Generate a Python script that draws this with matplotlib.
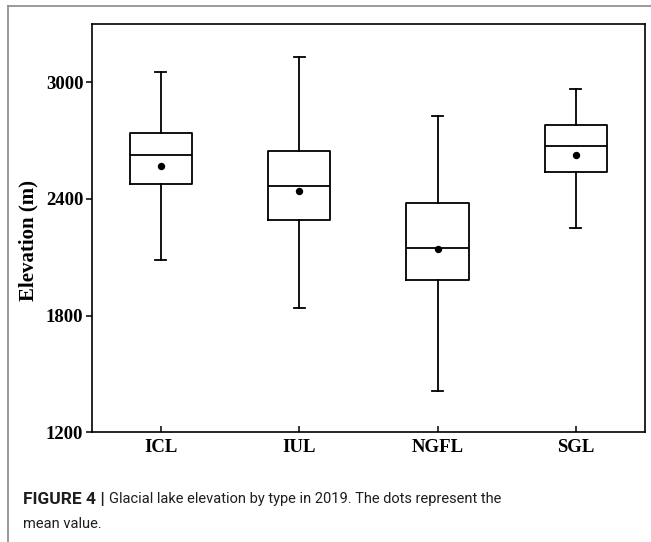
import matplotlib
matplotlib.use("Agg")
import matplotlib.pyplot as plt
from matplotlib.lines import Line2D

# values (m)
lake_types = ["ICL", "IUL", "NGFL", "SGL"]
whisker_low = [2086, 1841, 1411, 2249]
q1 = [2475, 2290, 1983, 2540]
median = [2626, 2466, 2146, 2672]
q3 = [2737, 2645, 2379, 2778]
whisker_high = [3052, 3131, 2825, 2964]
mean = [2569, 2441, 2141, 2627]
y_ticks = [1200, 1800, 2400, 3000]

serif = ["Liberation Serif", "DejaVu Serif"]
W, H = 651, 542

fig = plt.figure(figsize=(W / 100, H / 100), dpi=100)
ax = fig.add_axes([91.7 / W, 1 - 432.3 / H, (645 - 91.7) / W, (432.3 - 24) / H])

stats = []
for i, name in enumerate(lake_types):
    stats.append({"label": name, "whislo": whisker_low[i], "q1": q1[i], "med": median[i],
                  "q3": q3[i], "whishi": whisker_high[i], "mean": mean[i], "fliers": []})

positions = list(range(1, len(lake_types) + 1))
lw = 1.3
ax.bxp(stats, positions=positions, widths=0.45, capwidths=0.08, showmeans=True,
       boxprops=dict(color="black", linewidth=lw),
       whiskerprops=dict(color="black", linewidth=lw),
       capprops=dict(color="black", linewidth=lw),
       medianprops=dict(color="black", linewidth=lw),
       meanprops=dict(marker="o", markerfacecolor="black", markeredgecolor="black", markersize=4.3))

ax.set_xlim(0.5, 4.5)
ax.set_ylim(1200, 3300)
ax.set_yticks(y_ticks)
ax.set_xticks(positions)
ax.set_xticklabels(lake_types)
for sp in ax.spines.values():
    sp.set_linewidth(1.2)

ax.tick_params(axis="y", direction="out", length=4, width=1.1, pad=2, right=False)
ax.tick_params(axis="x", direction="in", length=4, width=1.1, pad=5, top=False)
for lab in ax.get_xticklabels() + ax.get_yticklabels():
    lab.set_fontfamily(serif)
    lab.set_fontweight("bold")
    lab.set_fontsize(13.5)

ax.set_ylabel("Elevation (m)", fontsize=15, family=serif, weight="bold")
ax.yaxis.set_label_coords(-0.097, 0.469)

# grey page frame (top and left)
fig.add_artist(Line2D([8 / W, 8 / W], [0, 1 - 6 / H], transform=fig.transFigure,
                      color="#8a8a8a", linewidth=1.2))
fig.add_artist(Line2D([8 / W, 1], [1 - 6 / H, 1 - 6 / H], transform=fig.transFigure,
                      color="#8a8a8a", linewidth=1.2))

# caption
cap_font = ["Roboto", "DejaVu Sans"]
renderer = fig.canvas.get_renderer()
t_bold = fig.text(23 / W, 1 - 499 / H, "FIGURE 4 |", fontsize=12.5, fontweight="bold",
                  family=cap_font, va="center", color="#1e1e1e")
w_bold = t_bold.get_window_extent(renderer).width
fig.text((23 + w_bold + 4) / W, 1 - 499 / H,
         "Glacial lake elevation by type in 2019. The dots represent the",
         fontsize=10.5, family=cap_font, va="center", color="#1e1e1e")
fig.text(23 / W, 1 - 524 / H, "mean value.", fontsize=10.5, family=cap_font,
         va="center", color="#1e1e1e")

fig.savefig("out.png", dpi=100)
